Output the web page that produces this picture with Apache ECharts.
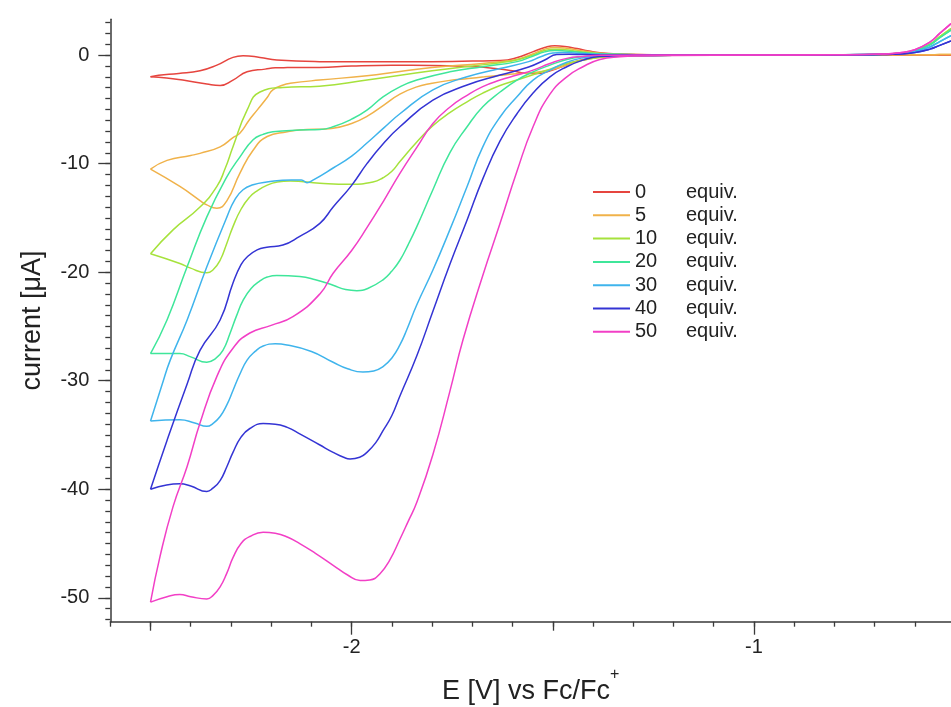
<!DOCTYPE html>
<html><head><meta charset="utf-8">
<script src="https://cdn.jsdelivr.net/npm/echarts@6/dist/echarts.min.js"></script>
<style>html,body{margin:0;padding:0;background:#fff}#c{width:951px;height:707px}</style>
</head><body><div id="c"></div>
<script>
const equivLabels = ['0', '5', '10', '20', '30', '40', '50'];
const lineColors = ['#e6453f', '#f0b24a', '#a6e23c', '#3fe69a', '#3fb4ec', '#3434d4', '#f23fc6'];

// [potential V, current uA]; forward scan (toward negative) then return scan
const fwd0 = [[-0.51,0.02],[-0.6,0.02],[-0.8,0.01],[-1.0,0.0],[-1.2,0.0],[-1.3,-0.02],[-1.36,-0.1],[-1.40,-0.25],[-1.445,-0.6],[-1.48,-1.1],[-1.51,-1.5],[-1.54,-1.7],[-1.57,-1.65],[-1.60,-1.45],[-1.65,-1.2],[-1.70,-1.07],[-1.80,-0.95],[-1.90,-0.93],[-2.00,-1.0],[-2.08,-1.13],[-2.16,-1.15],[-2.19,-1.17],[-2.215,-1.29],[-2.26,-1.54],[-2.295,-2.3],[-2.327,-2.8],[-2.36,-2.67],[-2.42,-2.3],[-2.46,-2.1],[-2.50,-2.0]];
const ret0 = [[-2.50,-2.0],[-2.48,-1.85],[-2.43,-1.69],[-2.377,-1.44],[-2.335,-0.92],[-2.295,-0.21],[-2.27,-0.06],[-2.228,-0.21],[-2.186,-0.46],[-2.08,-0.6],[-1.90,-0.62],[-1.80,-0.6],[-1.70,-0.55],[-1.63,-0.5],[-1.59,-0.25],[-1.55,0.3],[-1.52,0.7],[-1.495,0.86],[-1.47,0.8],[-1.44,0.6],[-1.41,0.38],[-1.383,0.22],[-1.33,0.1],[-1.25,0.04],[-1.0,0.02],[-0.8,0.02],[-0.51,0.02]];

const fwd5 = [[-0.51,0.06],[-0.538,0.05],[-0.5625,0.04],[-0.6,0.03],[-0.68,0.02],[-0.8,0.02],[-1.0,0.0],[-1.2,-0.02],[-1.3,-0.05],[-1.36,-0.15],[-1.40,-0.3],[-1.44,-0.6],[-1.48,-1.1],[-1.51,-1.4],[-1.55,-1.62],[-1.59,-1.72],[-1.63,-1.85],[-1.67,-2.0],[-1.71,-2.15],[-1.76,-2.35],[-1.80,-2.6],[-1.84,-2.95],[-1.88,-3.6],[-1.92,-4.6],[-1.96,-5.6],[-2.00,-6.3],[-2.05,-6.75],[-2.13,-6.9],[-2.16,-7.07],[-2.21,-7.5],[-2.245,-8.76],[-2.278,-10.9],[-2.31,-13.4],[-2.335,-14.1],[-2.36,-13.8],[-2.377,-13.4],[-2.427,-12.1],[-2.50,-10.5]];
const ret5 = [[-2.50,-10.5],[-2.459,-9.7],[-2.40,-9.25],[-2.377,-9.05],[-2.327,-8.45],[-2.295,-7.6],[-2.278,-7.2],[-2.255,-6.0],[-2.235,-5.07],[-2.21,-3.9],[-2.196,-3.2],[-2.17,-2.75],[-2.153,-2.6],[-2.08,-2.3],[-1.962,-1.9],[-1.88,-1.5],[-1.80,-1.15],[-1.674,-0.77],[-1.63,-0.6],[-1.59,-0.4],[-1.55,0.1],[-1.52,0.55],[-1.495,0.71],[-1.47,0.66],[-1.44,0.48],[-1.41,0.3],[-1.383,0.18],[-1.33,0.08],[-1.25,0.04],[-1.0,0.02],[-0.8,0.02],[-0.68,0.02],[-0.6,0.03],[-0.5625,0.04],[-0.538,0.05],[-0.51,0.06]];

const fwd10 = [[-0.51,2.45],[-0.538,1.7],[-0.5625,1.0],[-0.6,0.43],[-0.637,0.19],[-0.68,0.09],[-0.8,0.03],[-1.0,0.0],[-1.2,-0.02],[-1.3,-0.05],[-1.36,-0.12],[-1.40,-0.3],[-1.458,-0.7],[-1.50,-1.2],[-1.532,-1.6],[-1.589,-2.3],[-1.631,-2.8],[-1.674,-3.5],[-1.713,-4.3],[-1.756,-5.3],[-1.798,-6.5],[-1.838,-8.0],[-1.88,-9.8],[-1.90,-10.7],[-1.922,-11.3],[-1.947,-11.7],[-2.004,-11.9],[-2.079,-11.8],[-2.153,-11.6],[-2.185,-11.7],[-2.211,-12.0],[-2.235,-12.5],[-2.253,-13.06],[-2.275,-14.2],[-2.295,-15.8],[-2.31,-17.3],[-2.327,-18.9],[-2.345,-19.8],[-2.36,-20.06],[-2.402,-19.6],[-2.427,-19.2],[-2.50,-18.3]];
const ret10 = [[-2.50,-18.3],[-2.444,-16.1],[-2.377,-14.0],[-2.335,-12.1],[-2.315,-10.5],[-2.295,-8.45],[-2.26,-5.07],[-2.228,-3.4],[-2.171,-2.98],[-2.08,-2.86],[-1.962,-2.3],[-1.80,-1.45],[-1.70,-1.0],[-1.631,-0.7],[-1.59,-0.45],[-1.55,0.0],[-1.52,0.42],[-1.495,0.55],[-1.47,0.5],[-1.44,0.36],[-1.41,0.24],[-1.383,0.15],[-1.33,0.07],[-1.25,0.03],[-1.0,0.02],[-0.8,0.03],[-0.68,0.09],[-0.637,0.19],[-0.6,0.43],[-0.5625,1.0],[-0.538,1.7],[-0.51,2.45]];

const fwd20 = [[-0.51,2.3],[-0.538,1.6],[-0.5625,0.95],[-0.6,0.4],[-0.637,0.18],[-0.68,0.08],[-0.8,0.03],[-1.0,0.0],[-1.2,-0.02],[-1.3,-0.04],[-1.383,-0.06],[-1.425,-0.15],[-1.465,-0.4],[-1.507,-0.92],[-1.549,-1.54],[-1.589,-2.3],[-1.631,-3.4],[-1.674,-4.76],[-1.713,-6.6],[-1.756,-9.0],[-1.798,-12.4],[-1.838,-15.8],[-1.860,-17.5],[-1.880,-18.9],[-1.900,-19.9],[-1.922,-20.7],[-1.96,-21.5],[-1.987,-21.7],[-2.015,-21.6],[-2.046,-21.2],[-2.09,-20.7],[-2.129,-20.4],[-2.186,-20.3],[-2.21,-20.45],[-2.228,-20.8],[-2.25,-21.5],[-2.270,-22.6],[-2.286,-24.0],[-2.302,-25.6],[-2.320,-27.2],[-2.340,-28.0],[-2.360,-28.3],[-2.40,-27.8],[-2.427,-27.5],[-2.50,-27.5]];
const ret20 = [[-2.50,-27.5],[-2.459,-24.4],[-2.409,-19.5],[-2.360,-14.9],[-2.310,-11.2],[-2.278,-9.4],[-2.245,-7.8],[-2.22,-7.3],[-2.196,-7.07],[-2.129,-6.9],[-2.079,-6.85],[-2.046,-6.6],[-2.00,-5.9],[-1.962,-5.07],[-1.922,-3.84],[-1.880,-2.92],[-1.838,-2.3],[-1.756,-1.54],[-1.674,-1.07],[-1.589,-0.6],[-1.55,-0.1],[-1.52,0.3],[-1.495,0.42],[-1.47,0.38],[-1.44,0.28],[-1.41,0.18],[-1.383,0.12],[-1.33,0.06],[-1.25,0.03],[-1.0,0.02],[-0.8,0.03],[-0.68,0.08],[-0.637,0.18],[-0.6,0.4],[-0.5625,0.95],[-0.538,1.6],[-0.51,2.3]];

const fwd30 = [[-0.51,1.8],[-0.538,1.25],[-0.5625,0.75],[-0.6,0.32],[-0.637,0.14],[-0.68,0.07],[-0.8,0.03],[-1.0,0.0],[-1.2,-0.02],[-1.3,-0.04],[-1.383,-0.08],[-1.425,-0.25],[-1.465,-0.65],[-1.507,-1.38],[-1.549,-2.3],[-1.589,-3.84],[-1.631,-5.7],[-1.674,-8.45],[-1.713,-12.1],[-1.756,-16.1],[-1.798,-19.8],[-1.838,-23.0],[-1.863,-25.3],[-1.880,-26.7],[-1.90,-27.9],[-1.922,-28.7],[-1.945,-29.1],[-1.972,-29.2],[-2.010,-28.9],[-2.046,-28.3],[-2.10,-27.3],[-2.161,-26.7],[-2.19,-26.6],[-2.220,-26.8],[-2.24,-27.3],[-2.260,-28.1],[-2.278,-29.4],[-2.295,-30.9],[-2.31,-32.2],[-2.327,-33.3],[-2.345,-33.95],[-2.360,-34.2],[-2.39,-33.9],[-2.427,-33.6],[-2.50,-33.7]];
const ret30 = [[-2.50,-33.7],[-2.47,-30.2],[-2.451,-28.1],[-2.409,-24.4],[-2.360,-19.5],[-2.310,-14.9],[-2.29,-13.3],[-2.270,-12.4],[-2.245,-11.95],[-2.211,-11.7],[-2.150,-11.5],[-2.125,-11.5],[-2.111,-11.75],[-2.095,-11.5],[-2.046,-10.4],[-2.00,-9.3],[-1.962,-8.1],[-1.920,-6.7],[-1.880,-5.4],[-1.798,-3.2],[-1.713,-2.0],[-1.631,-1.23],[-1.56,-0.6],[-1.53,-0.15],[-1.50,0.2],[-1.475,0.25],[-1.44,0.18],[-1.41,0.12],[-1.383,0.08],[-1.33,0.05],[-1.25,0.03],[-1.0,0.02],[-0.8,0.03],[-0.68,0.07],[-0.637,0.14],[-0.6,0.32],[-0.5625,0.75],[-0.538,1.25],[-0.51,1.8]];

const fwd40 = [[-0.51,1.3],[-0.538,0.9],[-0.5625,0.55],[-0.6,0.23],[-0.637,0.1],[-0.68,0.05],[-0.8,0.02],[-1.0,0.0],[-1.2,-0.02],[-1.3,-0.04],[-1.383,-0.12],[-1.425,-0.46],[-1.465,-1.07],[-1.507,-2.0],[-1.549,-3.5],[-1.589,-5.4],[-1.631,-7.9],[-1.674,-11.4],[-1.713,-15.2],[-1.756,-19.3],[-1.798,-23.6],[-1.838,-27.7],[-1.880,-31.4],[-1.90,-33.2],[-1.922,-34.6],[-1.94,-35.7],[-1.962,-36.6],[-1.98,-37.05],[-2.004,-37.2],[-2.02,-37.05],[-2.046,-36.6],[-2.08,-35.9],[-2.129,-34.9],[-2.16,-34.3],[-2.19,-34.0],[-2.22,-33.95],[-2.253,-34.4],[-2.275,-35.2],[-2.295,-36.6],[-2.31,-37.9],[-2.327,-39.2],[-2.345,-39.9],[-2.360,-40.2],[-2.40,-39.7],[-2.427,-39.5],[-2.46,-39.6],[-2.50,-40.0]];
const ret40 = [[-2.50,-40.0],[-2.459,-35.5],[-2.409,-30.3],[-2.377,-27.2],[-2.327,-24.4],[-2.295,-21.0],[-2.275,-19.3],[-2.260,-18.6],[-2.235,-17.95],[-2.211,-17.7],[-2.171,-17.5],[-2.129,-16.7],[-2.079,-15.5],[-2.046,-14.0],[-2.00,-12.0],[-1.962,-10.0],[-1.920,-8.1],[-1.880,-6.6],[-1.798,-4.15],[-1.713,-2.76],[-1.631,-1.84],[-1.56,-1.1],[-1.52,-0.45],[-1.49,0.05],[-1.46,0.08],[-1.42,0.05],[-1.383,0.03],[-1.33,0.02],[-1.0,0.01],[-0.8,0.02],[-0.68,0.05],[-0.637,0.1],[-0.6,0.23],[-0.5625,0.55],[-0.538,0.9],[-0.51,1.3]];

const fwd50 = [[-0.51,2.9],[-0.538,2.0],[-0.5625,1.2],[-0.6,0.5],[-0.637,0.22],[-0.68,0.1],[-0.8,0.03],[-1.0,0.0],[-1.2,-0.03],[-1.28,-0.07],[-1.333,-0.15],[-1.383,-0.4],[-1.425,-1.07],[-1.465,-2.0],[-1.507,-3.6],[-1.549,-6.6],[-1.589,-10.7],[-1.631,-15.5],[-1.674,-20.3],[-1.723,-26.2],[-1.756,-31.0],[-1.798,-36.8],[-1.838,-41.2],[-1.86,-43.0],[-1.880,-44.6],[-1.905,-46.5],[-1.930,-47.8],[-1.955,-48.35],[-1.979,-48.4],[-2.01,-47.9],[-2.046,-47.0],[-2.09,-45.9],[-2.129,-45.0],[-2.16,-44.4],[-2.190,-44.05],[-2.22,-43.95],[-2.253,-44.35],[-2.275,-45.0],[-2.295,-46.3],[-2.31,-47.7],[-2.327,-49.0],[-2.345,-49.8],[-2.360,-50.1],[-2.40,-49.9],[-2.427,-49.7],[-2.459,-49.9],[-2.50,-50.4]];
const ret50 = [[-2.50,-50.4],[-2.4765,-46.2],[-2.444,-41.6],[-2.409,-37.9],[-2.377,-33.9],[-2.335,-29.6],[-2.295,-27.0],[-2.253,-25.6],[-2.20,-24.9],[-2.146,-24.1],[-2.079,-22.0],[-2.046,-20.1],[-2.00,-18.0],[-1.962,-15.9],[-1.920,-13.4],[-1.880,-10.9],[-1.838,-8.5],[-1.798,-6.3],[-1.756,-4.8],[-1.713,-3.7],[-1.674,-2.9],[-1.631,-2.3],[-1.589,-1.84],[-1.549,-1.38],[-1.507,-0.77],[-1.465,-0.3],[-1.425,-0.12],[-1.383,-0.02],[-1.3,0.0],[-1.0,0.01],[-0.8,0.03],[-0.68,0.1],[-0.637,0.22],[-0.6,0.5],[-0.5625,1.2],[-0.538,2.0],[-0.51,2.9]];

const forwardScans = [fwd0, fwd5, fwd10, fwd20, fwd30, fwd40, fwd50];
const returnScans = [ret0, ret5, ret10, ret20, ret30, ret40, ret50];

const xMinorTicks = [-2.6,-2.5,-2.4,-2.3,-2.2,-2.1,-2.0,-1.9,-1.8,-1.7,-1.6,-1.5,-1.4,-1.3,-1.2,-1.1,-1.0,-0.9,-0.8,-0.7,-0.6];
const xMidTicks = [-2.5, -1.5];
const xMajorTicks = [-2, -1];
const yMinorTicks = [-52,-51,-50,-49,-48,-47,-46,-45,-44,-43,-42,-41,-40,-39,-38,-37,-36,-35,-34,-33,-32,-31,-30,-29,-28,-27,-26,-25,-24,-23,-22,-21,-20,-19,-18,-17,-16,-15,-14,-13,-12,-11,-10,-9,-8,-7,-6,-5,-4,-3,-2,-1,0,1,2,3];
const yMajorTicks = [-50, -40, -30, -20, -10, 0];

const FONT = 'Liberation Sans, Arial, Helvetica, sans-serif';
const AX = '#3a3a3a';
const xMin = -2.6, xMax = -0.51, yMin = -52.2, yMax = 3.3;

function xAxisDef(ticks, len, showLine, labels) {
  return {
    type: 'value', min: xMin, max: xMax, position: 'bottom',
    axisLine: { show: showLine, onZero: false, lineStyle: { color: AX, width: 1.5 } },
    axisTick: { show: true, customValues: ticks, length: len, lineStyle: { color: AX, width: 1.3 } },
    axisLabel: labels ? { show: true, customValues: labels, margin: 16, color: '#222', fontSize: 20, fontFamily: FONT, formatter: v => String(Math.round(v)) } : { show: false },
    splitLine: { show: false }
  };
}
function yAxisDef(ticks, len, showLine, labels) {
  return {
    type: 'value', min: yMin, max: yMax, position: 'left',
    axisLine: { show: showLine, onZero: false, lineStyle: { color: AX, width: 1.5 } },
    axisTick: { show: true, customValues: ticks, length: len, lineStyle: { color: AX, width: 1.3 } },
    axisLabel: labels ? { show: true, customValues: labels, margin: 21, color: '#222', fontSize: 20, fontFamily: FONT, formatter: v => String(Math.round(v)) } : { show: false },
    splitLine: { show: false }
  };
}

const xAxes = [xAxisDef(xMinorTicks, 5, true, null), xAxisDef(xMidTicks, 9, false, null), xAxisDef(xMajorTicks, 13, false, xMajorTicks)];
xAxes[2].name = '{a|E [V] vs Fc/Fc}{s|+}';
xAxes[2].nameLocation = 'middle';
xAxes[2].nameGap = 45;
xAxes[2].nameTextStyle = { fontFamily: FONT, color: '#222', rich: { a: { fontSize: 27, fontFamily: FONT, color: '#222', lineHeight: 38, verticalAlign: 'bottom' }, s: { fontSize: 16, fontFamily: FONT, color: '#222', lineHeight: 38, verticalAlign: 'top' } } };

const yAxes = [yAxisDef(yMinorTicks, 5, true, yMajorTicks), yAxisDef(yMajorTicks, 12, false, null)];
yAxes[0].name = 'current [\u03bcA]';
yAxes[0].nameLocation = 'middle';
yAxes[0].nameGap = 64;
yAxes[0].nameTextStyle = { fontSize: 27, fontFamily: FONT, color: '#222' };

const series = [];
equivLabels.forEach((name, i) => {
  [forwardScans[i], returnScans[i]].forEach(scan => {
    series.push({
      name: name, type: 'line', xAxisIndex: 0, yAxisIndex: 0,
      data: scan, showSymbol: false, symbol: 'none', smooth: 0.5,
      lineStyle: { color: lineColors[i], width: 1.5 }, itemStyle: { color: lineColors[i] },
      clip: true, animation: false
    });
  });
});

const chart = echarts.init(document.getElementById('c'), null, { renderer: 'canvas' });
chart.setOption({
  backgroundColor: '#ffffff',
  animation: false,
  grid: { left: 110.3, right: 0, top: 19.3, bottom: 85.3, containLabel: false, outerBoundsMode: 'none' },
  xAxis: xAxes,
  yAxis: yAxes,
  legend: {
    data: equivLabels, orient: 'vertical', left: 593, top: 181.5, padding: 0,
    itemWidth: 37, itemHeight: 2, itemGap: 2.3, itemTextGap: 10, icon: 'rect',
    selectedMode: false,
    formatter: n => '{n|' + n + '}{e|equiv.}',
    textStyle: { fontFamily: FONT, color: '#222', fontSize: 20, lineHeight: 21,
      rich: { n: { width: 51, fontSize: 20, fontFamily: FONT, color: '#222', lineHeight: 21 }, e: { fontSize: 20, fontFamily: FONT, color: '#222', lineHeight: 21 } } }
  },
  series: series
});
</script></body></html>
